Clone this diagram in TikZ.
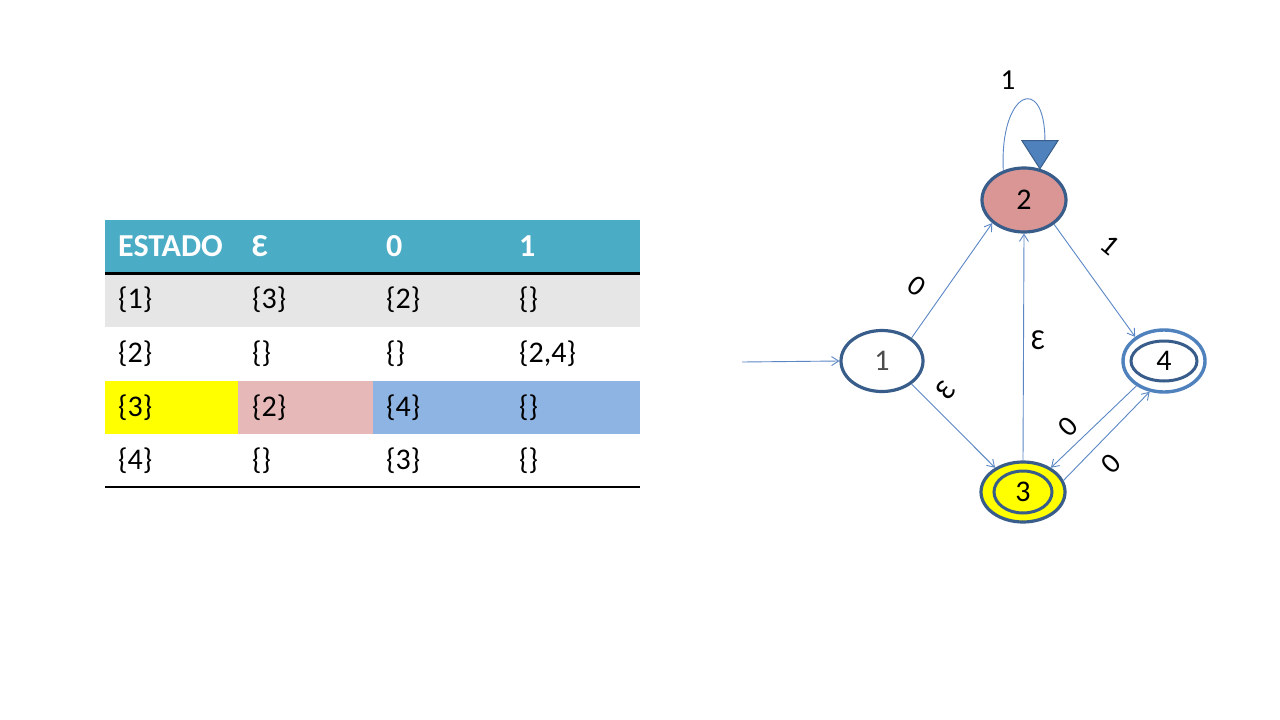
\documentclass[tikz,border=0pt]{standalone}
\usepackage{fontspec}
\setmainfont{Carlito}
\usetikzlibrary{shapes.geometric,arrows.meta}
\definecolor{headteal}{HTML}{4BACC6}
\definecolor{rowgray}{HTML}{E6E6E6}
\definecolor{cellyellow}{HTML}{FFFF00}
\definecolor{cellpink}{HTML}{E6B9B8}
\definecolor{cellblue}{HTML}{8EB4E3}
\definecolor{nodeline}{HTML}{385D8A}
\definecolor{edgeblue}{HTML}{5B87C5}
\definecolor{lightring}{HTML}{4F81BD}
\definecolor{nodepink}{HTML}{D99694}
\newcommand\fsz[1]{\fontsize{#1}{#1}\selectfont}
\tikzset{
  headtxt/.style={anchor=west,text=white,font=\fsz{32}\bfseries,inner sep=0pt},
  celltxt/.style={anchor=west,text=black,font=\fsz{30},inner sep=0pt},
  state/.style={ellipse,draw=nodeline,line width=3.2pt,minimum width=82pt,minimum height=61pt,inner sep=0pt,font=\fsz{30}},
  edge/.style={draw=edgeblue,line width=0.9pt,-{Straight Barb[length=7pt,width=9pt]}},
  elab/.style={font=\fsz{29},inner sep=0pt},
}
\begin{document}
\begin{tikzpicture}[x=1pt,y=-1pt]
\useasboundingbox (0,0) rectangle (1280,720);
\fill[white] (0,0) rectangle (1280,720);
% ---- table ----
\fill[headteal] (105,220) rectangle (640,273);
\fill[rowgray] (105,273) rectangle (640,327);
\fill[cellyellow] (105,381) rectangle (238,434);
\fill[cellpink] (238,381) rectangle (373,434);
\fill[cellblue] (373,381) rectangle (640,434);
\draw[black,line width=3pt] (105,273.5) -- (640,273.5);
\draw[black,line width=2pt] (105,487) -- (640,487);
\node[headtxt] (h1) at (118,246) {ESTADO};
\node[headtxt] (h2) at (252,246) {Ɛ};
\node[headtxt] (h3) at (386,246) {0};
\node[headtxt] (h4) at (519,246) {1};
\node[celltxt] (a1) at (118,300) {\{1\}};
\node[celltxt] (a2) at (252,300) {\{3\}};
\node[celltxt] (a3) at (386,300) {\{2\}};
\node[celltxt] (a4) at (519,300) {\{\}};
\node[celltxt] (b1) at (118,354) {\{2\}};
\node[celltxt] (b2) at (252,354) {\{\}};
\node[celltxt] (b3) at (386,354) {\{\}};
\node[celltxt] (b4) at (519,354) {\{2,4\}};
\node[celltxt] (c1) at (118,408) {\{3\}};
\node[celltxt] (c2) at (252,408) {\{2\}};
\node[celltxt] (c3) at (386,408) {\{4\}};
\node[celltxt] (c4) at (519,408) {\{\}};
\node[celltxt] (d1) at (118,461) {\{4\}};
\node[celltxt] (d2) at (252,461) {\{\}};
\node[celltxt] (d3) at (386,461) {\{3\}};
\node[celltxt] (d4) at (519,461) {\{\}};
% ---- automaton ----
\node[state,fill=white,text=black!70] (n1) at (882,361) {1};
\node[state,fill=nodepink,minimum width=84pt,minimum height=64pt] (n2) at (1024,200) {2};
\node[state,fill=cellyellow,minimum width=84pt,minimum height=60pt] (n3) at (1023,492) {3};
\draw[nodeline,line width=3pt] (n3.center) ellipse [x radius=29pt,y radius=21pt];
\node[state,draw=lightring,line width=3.4pt,minimum width=82pt,minimum height=62pt] (n4) at (1164,361) {4};
\draw[nodeline,line width=3pt] (n4.center) ellipse [x radius=33pt,y radius=20pt];
\coordinate (start) at (742,362);
\draw[edge] (start) -- (n1.west);
\draw[edge] (n1.38) -- (n2.216);
\draw[edge] (n1.-38) -- (n3.139);
\draw[edge] (n3.north) -- (n2.south);
\draw[edge] (n2.-39) -- (n4.140);
\draw[edge] (n4.222) -- (n3.41);
\draw[edge] (n3.16) -- (n4.245);
% self loop
\coordinate (tip) at (n2.63);
\coordinate (looptop) at ([xshift=5pt,yshift=28pt]tip);
\draw[edgeblue,line width=0.9pt] (n2.125) .. controls +(-4,-80) and +(0,-68) .. (looptop);
\filldraw[fill=lightring,draw=nodeline,line width=1pt] (tip) -- ([xshift=-18pt,yshift=28pt]tip) -- ([xshift=18pt,yshift=28pt]tip) -- cycle;
% labels
\node[elab] (l0) at (1008,80) {1};
\node[elab,rotate=-35] (l1) at (917,286) {0};
\node[elab,rotate=50] (l2) at (946,390) {Ɛ};
\node[elab] (l3) at (1038,340) {Ɛ};
\node[elab,rotate=-40] (l4) at (1110,245) {1};
\node[elab,rotate=45] (l5) at (1068,427) {0};
\node[elab,rotate=45] (l6) at (1111,464) {0};
\end{tikzpicture}
\end{document}
